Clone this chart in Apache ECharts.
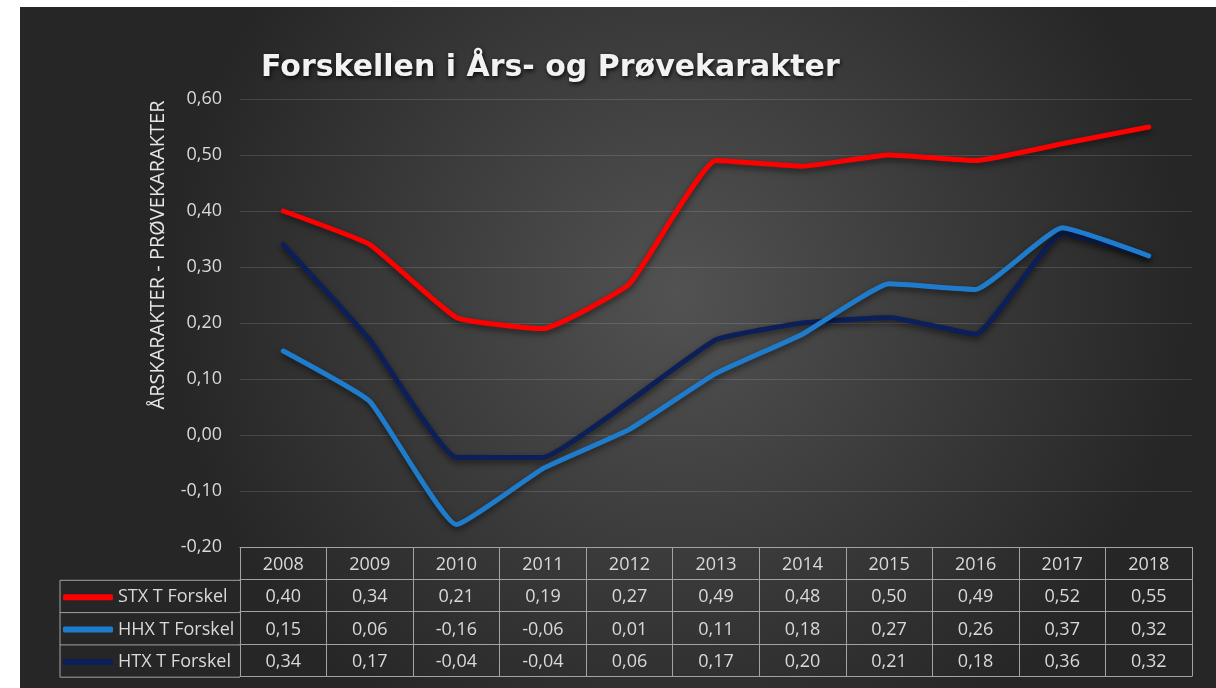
<!DOCTYPE html>
<html>
<head>
<meta charset="utf-8">
<script src="https://cdn.jsdelivr.net/npm/echarts@6/dist/echarts.min.js"></script>
<style>
  html, body { margin:0; padding:0; background:#fff; }
  #chart { position:absolute; left:20px; top:7px; width:1196px; height:681px; }
</style>
</head>
<body>
<div id="chart"></div>
<script>
// data
var years = ['2008','2009','2010','2011','2012','2013','2014','2015','2016','2017','2018'];
var stx = [0.40, 0.34, 0.21, 0.19, 0.27, 0.49, 0.48, 0.50, 0.49, 0.52, 0.55];
var hhx = [0.15, 0.06, -0.16, -0.06, 0.01, 0.11, 0.18, 0.27, 0.26, 0.37, 0.32];
var htx = [0.34, 0.17, -0.04, -0.04, 0.06, 0.17, 0.20, 0.21, 0.18, 0.36, 0.32];
var names = ['STX T Forskel', 'HHX T Forskel', 'HTX T Forskel'];
var colors = ['#ff0000', '#1f7ccc', '#0c1f58'];

function fmt(v){ return v.toFixed(2).replace('.', ','); }

var txt = '#d9d9d9';
var border = '#a3a3a3';
var rowH = 32.3;

// table rows as extra x axes
function rowAxis(i, vals){
	return {
		type:'category',
		data:years,
		position:'bottom',
		offset:i*rowH,
		boundaryGap:true,
		axisLine:{show:true, onZero:false, lineStyle:{color:border, width:1}},
		axisTick:{show:vals!==null, length:rowH, interval:0, lineStyle:{color:border}},
		axisLabel:{
			show:vals!==null,
			interval:0,
			margin:9,
			color:txt,
			fontSize:18,
			fontFamily:'Open Sans',
			formatter:function(v, idx){ return vals===years ? v : fmt(vals[idx]); }
		},
		splitLine:{show:false}
	};
}

function legendRow(i){
	return {
		data:[names[i]],
		left:43,
		top:541 + (i+1)*rowH + 7,
		padding:0,
		icon:'roundRect',
		itemWidth:50,
		itemHeight:6,
		itemGap:3,
		textStyle:{color:txt, fontSize:18, fontFamily:'Open Sans', lineHeight:20}
	};
}

function lineSeries(i, vals){
	return {
		name:names[i],
		type:'line',
		data:vals,
		smooth:0.12,
		showSymbol:false,
		symbol:'none',
		lineStyle:{
			color:colors[i],
			width:5,
			cap:'round',
			shadowColor:'rgba(0,0,0,0.55)',
			shadowBlur:6,
			shadowOffsetY:3
		},
		itemStyle:{color:colors[i]}
	};
}

// borders of the label column (left part of the table)
var cellLines = [];
for (var r = 1; r <= 4; r++) {
	cellLines.push({
		type:'line',
		shape:{x1:40, y1:541 + r*rowH, x2:220, y2:541 + r*rowH},
		style:{stroke:border, lineWidth:1}
	});
}
cellLines.push({
	type:'line',
	shape:{x1:40, y1:541 + rowH, x2:40, y2:541 + 4*rowH},
	style:{stroke:border, lineWidth:1}
});

var chart = echarts.init(document.getElementById('chart'));
chart.setOption({
	backgroundColor:{
		type:'radial', x:0.55, y:0.42, r:0.75,
		colorStops:[
			{offset:0, color:'#525252'},
			{offset:1, color:'#262626'}
		]
	},
	title:{
		text:'Forskellen i Års- og Prøvekarakter',
		left:236,
		top:41,
		textStyle:{
			color:'#f2f2f2',
			fontSize:30,
			fontWeight:'bold',
			fontFamily:'DejaVu Sans',
			textShadowColor:'rgba(0,0,0,0.8)',
			textShadowBlur:4,
			textShadowOffsetX:1,
			textShadowOffsetY:2
		}
	},
	legend:[legendRow(0), legendRow(1), legendRow(2)],
	grid:{left:220, right:24, top:92, bottom:141},
	xAxis:[
		rowAxis(0, years),
		rowAxis(1, stx),
		rowAxis(2, hhx),
		rowAxis(3, htx),
		rowAxis(4, null)
	],
	yAxis:{
		type:'value',
		min:-0.2,
		max:0.6,
		interval:0.1,
		axisLine:{show:false},
		axisTick:{show:false},
		axisLabel:{
			color:txt,
			fontSize:18,
			fontFamily:'Open Sans',
			margin:18,
			formatter:function(v){ return fmt(v); }
		},
		splitLine:{lineStyle:{color:'rgba(255,255,255,0.13)', width:1}}
	},
	graphic:cellLines.concat([{
		type:'text',
		x:138,
		y:248,
		rotation:Math.PI/2,
		style:{
			text:'ÅRSKARAKTER - PRØVEKARAKTER',
			fill:'#e6e6e6',
			font:'20px "Open Sans"',
			align:'center',
			verticalAlign:'middle'
		}
	}]),
	series:[
		lineSeries(2, htx),
		lineSeries(1, hhx),
		lineSeries(0, stx)
	]
});
</script>
</body>
</html>
